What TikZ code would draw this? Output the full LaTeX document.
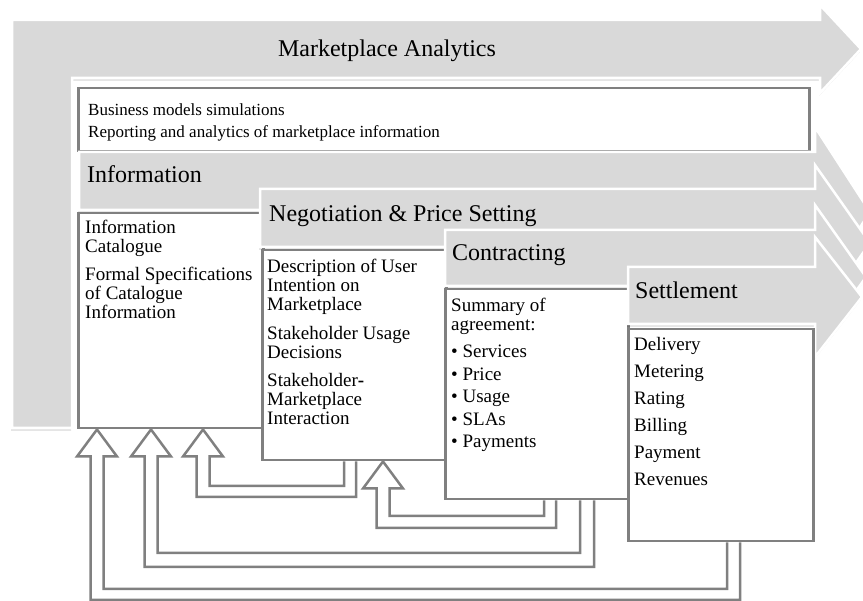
\documentclass[tikz,border=0pt]{standalone}
\usepackage{fontspec}
\setmainfont{Liberation Serif}
\usetikzlibrary{calc}
\definecolor{arrowgray}{HTML}{D9D9D9}
\definecolor{bordgray}{HTML}{808080}
\tikzset{
  bigarrow/.style={fill=arrowgray, draw=white, line width=2.5pt, line join=miter},
  shadowed/.style={fill=black, opacity=0.10},
  box/.style={draw=bordgray, fill=white, line width=2.5pt, rectangle, inner sep=0pt, anchor=north west},
  header/.style={font=\fontsize{24}{28}\selectfont, anchor=base west, inner sep=0pt},
  body/.style={font=\fontsize{19}{19}\selectfont, align=left, anchor=north west, inner sep=0pt},
  fb/.style={draw=bordgray, line width=2.5pt, line join=miter},
}
\newcommand\stagearrow[8]{% x0, top, bottom, headtop, headbottom, tip x, tip y, base x
  \fill[shadowed, xshift=-1pt, yshift=-3pt] (#1,#2) -- (#8,#2) -- (#8,#4) -- (#6,#7) -- (#8,#5) -- (#8,#3) -- (#1,#3) -- cycle;
  \draw[bigarrow] (#1,#2) -- (#8,#2) -- (#8,#4) -- (#6,#7) -- (#8,#5) -- (#8,#3) -- (#1,#3) -- cycle;
}
\newcommand\fbarrow[7]{% target, tip x, source, inner y, outer y, inner x, outer x
  \pgfmathsetmacro\hl{#2-20}\pgfmathsetmacro\hr{#2+20}%
  \pgfmathsetmacro\sl{#2-6.5}\pgfmathsetmacro\sr{#2+6.5}%
  \draw[fb] (#7,0 |- #3.south) -- (#7,#5) -- (\sl,#5)
    -- ([yshift=-27pt]\sl,0 |- #1.south) -- ([yshift=-27pt]\hl,0 |- #1.south)
    -- (#2,0 |- #1.south)
    -- ([yshift=-27pt]\hr,0 |- #1.south) -- ([yshift=-27pt]\sr,0 |- #1.south)
    -- (\sr,#4) -- (#6,#4) -- (#6,0 |- #3.south);
}
\begin{document}
\begin{tikzpicture}[x=1pt,y=-1pt]
\useasboundingbox (0,0) rectangle (863,601);

% Marketplace analytics bent arrow
\fill[shadowed, xshift=-1pt, yshift=-3pt] (12,20) -- (820,20) -- (820,5) -- (861,49) -- (820,93) -- (820,78) -- (72,78) -- (72,428) -- (12,428) -- cycle;
\draw[bigarrow] (12,20) -- (820,20) -- (820,5) -- (861,49) -- (820,93) -- (820,78) -- (72,78) -- (72,428) -- (12,428) -- cycle;
\node[font=\fontsize{24}{28}\selectfont, anchor=base, inner sep=0pt] (mahead) at (387,57) {Marketplace Analytics};

\node[box, minimum width=731pt, minimum height=63pt] (biz) at (77,87) {};
\node[font=\fontsize{17}{22}\selectfont, align=left, anchor=north west, inner sep=0pt] (biztext) at (88,103.5)
  {Business models simulations\\Reporting and analytics of marketplace information};

% Information
\stagearrow{79}{152}{210}{127}{297}{870}{212}{815}
\node[header] (infohead) at (87,183) {Information};
\node[box, minimum width=185pt, minimum height=215pt] (info) at (77,212) {};
\node[body] (infotext) at (85,220)
  {Information\\Catalogue\\[9pt]Formal Specifications\\of Catalogue\\Information};

% Negotiation
\stagearrow{260}{189}{247}{165}{321}{870}{243}{815}
\node[header] (negohead) at (269,222) {Negotiation \& Price Setting};
\node[box, minimum width=184pt, minimum height=210pt] (nego) at (261,249) {};
\node[body] (negotext) at (267,259)
  {Description of User\\Intention on\\Marketplace\\[10pt]Stakeholder Usage\\Decisions\\[9pt]Stakeholder\textbf{-}\\Marketplace\\Interaction};

% Contracting
\stagearrow{445}{230}{286}{205}{349}{866}{277}{815}
\node[header] (conthead) at (452,261) {Contracting};
\node[box, minimum width=183pt, minimum height=210pt] (contract) at (444,288) {};
\node[body] (conttext) at (451,298)
  {Summary of\\agreement:\\[8pt]• Services\\[3.5pt]• Price\\[3.5pt]• Usage\\[3.5pt]• SLAs\\[3.5pt]• Payments};

% Settlement
\stagearrow{628}{267}{324}{237}{357}{862}{297}{815}
\node[header] (setthead) at (635,299) {Settlement};
\node[box, minimum width=185pt, minimum height=212pt] (settle) at (627,328) {};
\node[body, font=\fontsize{19}{27}\selectfont] (setttext) at (634,337)
  {Delivery\\Metering\\Rating\\Billing\\Payment\\Revenues};

% feedback arrows
\fbarrow{info}{97}{settle}{589}{600}{727}{740}
\fbarrow{info}{151}{contract}{553}{567}{580}{594}
\fbarrow{info}{203}{nego}{486}{497}{344}{356}
\fbarrow{nego}{383}{contract}{516}{528}{544}{556}
\end{tikzpicture}
\end{document}
